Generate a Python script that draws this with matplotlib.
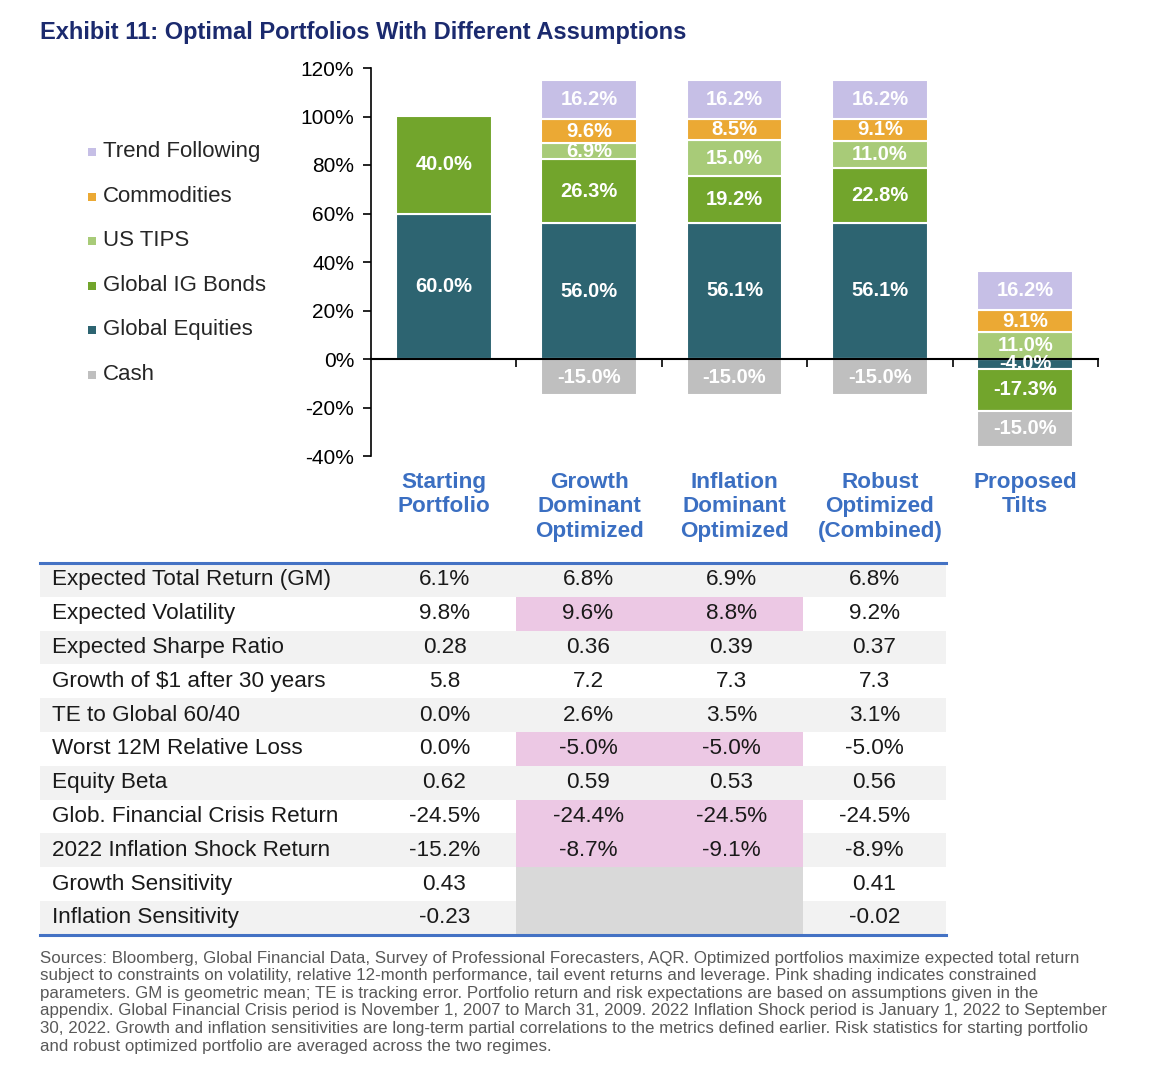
import matplotlib
matplotlib.use("Agg")
import matplotlib.pyplot as plt
import matplotlib.transforms as mtransforms
from matplotlib.patches import Rectangle

plt.rcParams['font.family'] = ['Liberation Sans', 'DejaVu Sans']

# ---- data ----
portfolios = ["Starting\nPortfolio", "Growth\nDominant\nOptimized", "Inflation\nDominant\nOptimized",
              "Robust\nOptimized\n(Combined)", "Proposed\nTilts"]

# stacked from the bottom up (cash goes below zero)
asset_names = ["Global Equities", "Global IG Bonds", "US TIPS", "Commodities", "Trend Following", "Cash"]
global_equities = [60.0, 56.0, 56.1, 56.1, -4.0]
global_ig_bonds = [40.0, 26.3, 19.2, 22.8, -17.3]
us_tips = [0.0, 6.9, 15.0, 11.0, 11.0]
commodities = [0.0, 9.6, 8.5, 9.1, 9.1]
trend_following = [0.0, 16.2, 16.2, 16.2, 16.2]
cash = [0.0, -15.0, -15.0, -15.0, -15.0]
asset_colors = ["#2d6471", "#72a52c", "#a8cb78", "#eba934", "#c6bfe6", "#bfbfbf"]
legend_order = ["Trend Following", "Commodities", "US TIPS", "Global IG Bonds", "Global Equities", "Cash"]

metrics = ["Expected Total Return (GM)", "Expected Volatility", "Expected Sharpe Ratio",
           "Growth of $1 after 30 years", "TE to Global 60/40", "Worst 12M Relative Loss",
           "Equity Beta", "Glob. Financial Crisis Return", "2022 Inflation Shock Return",
           "Growth Sensitivity", "Inflation Sensitivity"]
starting_vals = ["6.1%", "9.8%", "0.28", "5.8", "0.0%", "0.0%", "0.62", "-24.5%", "-15.2%", "0.43", "-0.23"]
growth_vals = ["6.8%", "9.6%", "0.36", "7.2", "2.6%", "-5.0%", "0.59", "-24.4%", "-8.7%", None, None]
inflation_vals = ["6.9%", "8.8%", "0.39", "7.3", "3.5%", "-5.0%", "0.53", "-24.5%", "-9.1%", None, None]
robust_vals = ["6.8%", "9.2%", "0.37", "7.3", "3.1%", "-5.0%", "0.56", "-24.5%", "-8.9%", "0.41", "-0.02"]
constrained_rows = [1, 5, 7, 8]   # pink-shaded for growth / inflation columns

footnote = [
    "Sources: Bloomberg, Global Financial Data, Survey of Professional Forecasters, AQR. Optimized portfolios maximize expected total return",
    "subject to constraints on volatility, relative 12-month performance, tail event returns and leverage. Pink shading indicates constrained",
    "parameters. GM is geometric mean; TE is tracking error. Portfolio return and risk expectations are based on assumptions given in the",
    "appendix. Global Financial Crisis period is November 1, 2007 to March 31, 2009. 2022 Inflation Shock period is January 1, 2022 to September",
    "30, 2022. Growth and inflation sensitivities are long-term partial correlations to the metrics defined earlier. Risk statistics for starting portfolio",
    "and robust optimized portfolio are averaged across the two regimes.",
]

W, H = 1160, 1080
fig = plt.figure(figsize=(W / 100, H / 100), dpi=100)

# overlay axes in pixel coordinates for title / legend / table / notes
ov = fig.add_axes([0, 0, 1, 1])
ov.set_xlim(0, W)
ov.set_ylim(H, 0)
ov.axis("off")

# ---- bar chart ----
ax = fig.add_axes([371 / W, 1 - 456 / H, (1098 - 371) / W, (456 - 68) / H])
series = [global_equities, global_ig_bonds, us_tips, commodities, trend_following, cash]
x = range(len(portfolios))
pos_base = [0.0] * len(portfolios)
neg_base = [0.0] * len(portfolios)
for vals, col in zip(series, asset_colors):
    for i, v in enumerate(vals):
        if v == 0:
            continue
        if v > 0:
            bottom = pos_base[i]
            pos_base[i] += v
        else:
            bottom = neg_base[i]
            neg_base[i] += v
        ax.bar(i, v, bottom=bottom, width=0.66, color=col, edgecolor="white", linewidth=1.5, zorder=1)
        ax.text(i, bottom + v / 2, f"{v:.1f}%", ha="center", va="center", color="white",
                fontsize=14.5, fontweight="bold", zorder=4)

ax.set_xlim(-0.5, len(portfolios) - 0.5)
ax.set_ylim(-40, 120)
ax.set_yticks(range(-40, 121, 20))
ax.set_yticklabels([f"{t}%" for t in range(-40, 121, 20)], fontsize=15)
ax.tick_params(axis="y", direction="out", length=6, width=1.2, pad=6)
ax.spines["top"].set_visible(False)
ax.spines["right"].set_visible(False)
ax.spines["left"].set_linewidth(1.2)
ax.spines["bottom"].set_position(("data", 0))
ax.spines["bottom"].set_linewidth(1.5)
ax.spines["bottom"].set_zorder(3)
ax.set_xticks([i + 0.5 for i in x])
ax.set_xticklabels([])
ax.tick_params(axis="x", direction="out", length=6, width=1.2)
ax.patch.set_alpha(0)

trans = mtransforms.blended_transform_factory(ax.transData, ax.transAxes)
for i, name in enumerate(portfolios):
    ax.text(i, -0.04, name, transform=trans, ha="center", va="top", fontsize=16.2,
            fontweight="bold", color="#3b6fc2", linespacing=1.24)

# ---- title ----
ov.text(40, 33, "Exhibit 11: Optimal Portfolios With Different Assumptions", ha="left", va="center",
        fontsize=17, fontweight="bold", color="#1b2a6e")

# ---- legend ----
for k, name in enumerate(legend_order):
    yk = 152 + 44.5 * k
    ov.scatter([92], [yk], marker="s", s=40, color=asset_colors[asset_names.index(name)], linewidths=0)
    ov.text(103, yk, name, ha="left", va="center", fontsize=16, color="#262626")

# ---- table ----
col_edges = [40, 373, 516, 660, 803, 946]
top, row_h = 563, 33.8
columns = [starting_vals, growth_vals, inflation_vals, robust_vals]
for r, label in enumerate(metrics):
    y0 = top + r * row_h
    if r % 2 == 0:
        ov.add_patch(Rectangle((col_edges[0], y0), col_edges[-1] - col_edges[0], row_h,
                               facecolor="#f2f2f2", edgecolor="none"))
    yc = y0 + row_h / 2
    ov.text(52, yc, label, ha="left", va="center", fontsize=16.2, color="#1a1a1a")
    for c, vals in enumerate(columns):
        x0, x1 = col_edges[c + 1], col_edges[c + 2]
        if vals[r] is None:
            ov.add_patch(Rectangle((x0, y0), x1 - x0, row_h, facecolor="#d9d9d9", edgecolor="none"))
            continue
        if c in (1, 2) and r in constrained_rows:
            ov.add_patch(Rectangle((x0, y0), x1 - x0, row_h, facecolor="#ecc8e4", edgecolor="none"))
        ov.text((x0 + x1) / 2, yc, vals[r], ha="center", va="center", fontsize=16.2, color="#1a1a1a")

bottom_y = top + len(metrics) * row_h
ov.plot([col_edges[0], col_edges[-1]], [top, top], color="#4472c4", lw=2.2)
ov.plot([col_edges[0], col_edges[-1]], [bottom_y, bottom_y], color="#4472c4", lw=2.2)

# ---- footnote ----
for k, line in enumerate(footnote):
    ov.text(40, 958 + 17.6 * k, line, ha="left", va="center", fontsize=12.2, color="#595959")

fig.savefig("out.png", dpi=100)
